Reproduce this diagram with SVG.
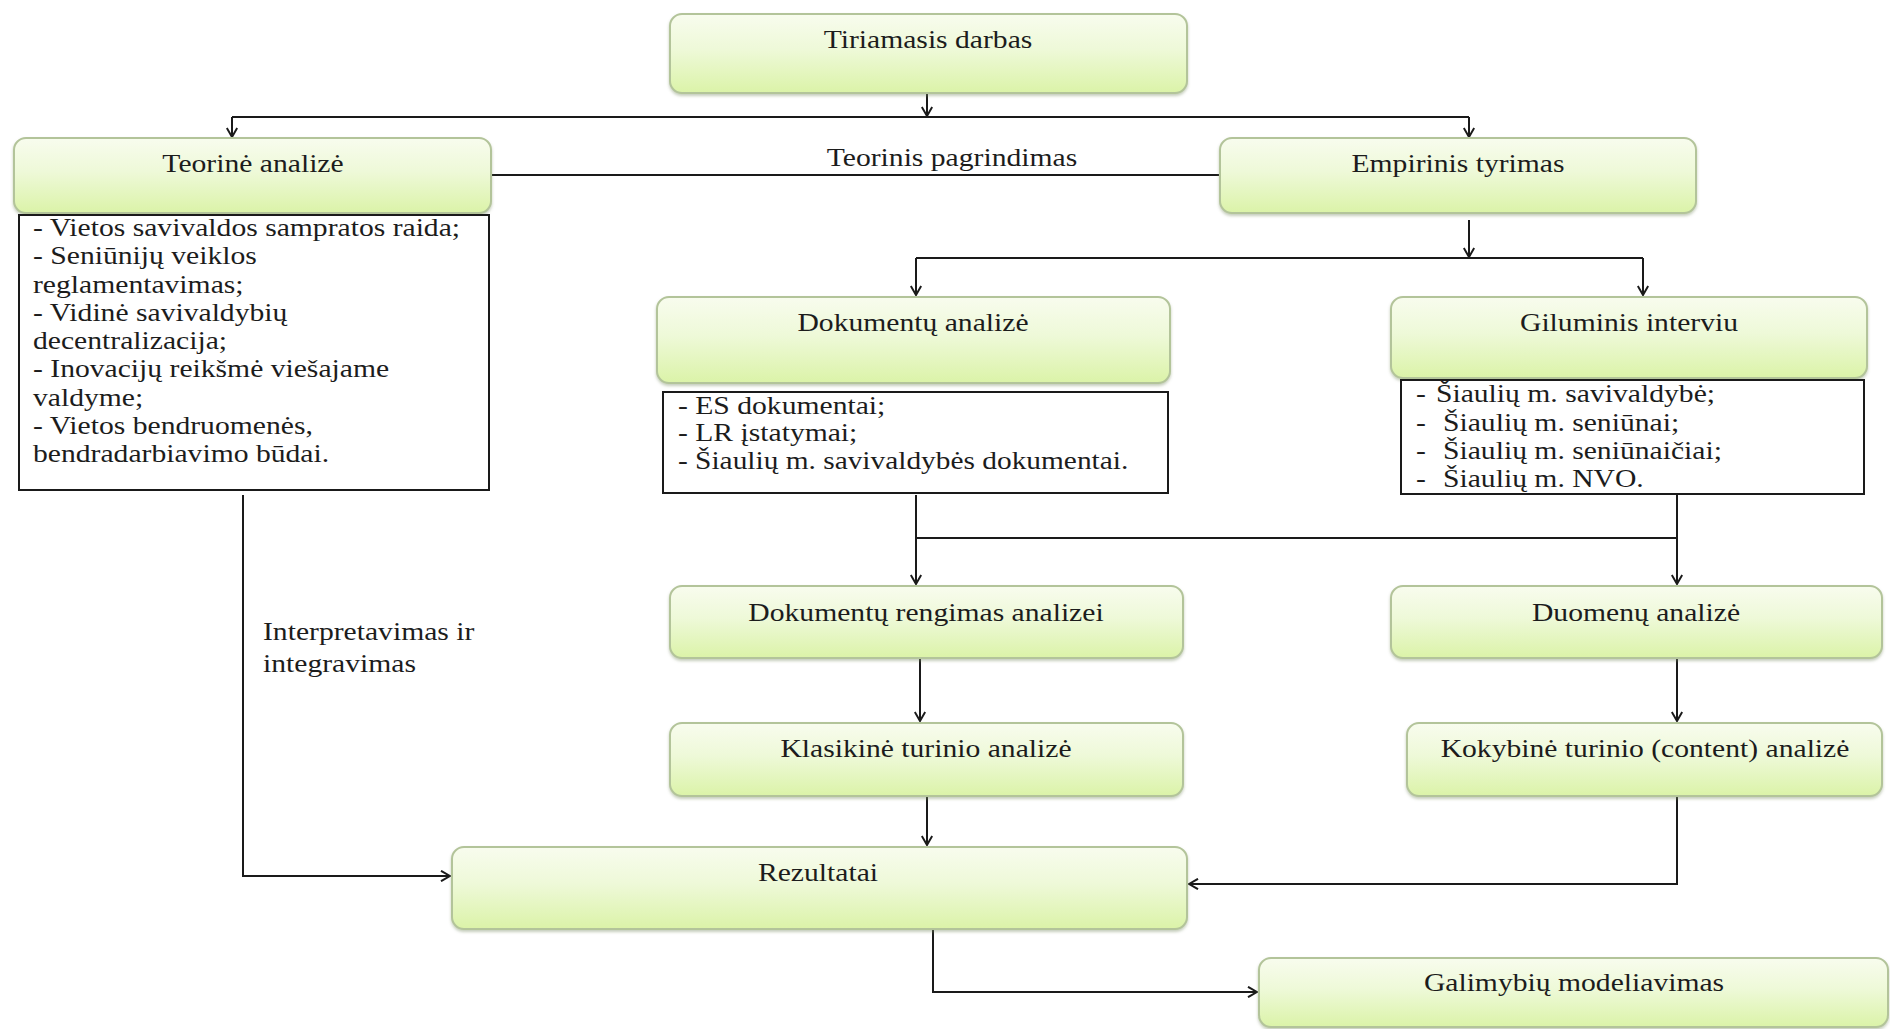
<svg xmlns="http://www.w3.org/2000/svg" width="1890" height="1029" viewBox="0 0 1890 1029">
  <style>
    .box { fill: url(#boxFill); stroke: #b3c49a; stroke-width: 2; filter: url(#soft); }
    .list { fill: #ffffff; stroke: #1a1a1a; stroke-width: 2; }
    .t { font-family: "Liberation Serif", "Times New Roman", serif; font-size: 26px; fill: #1c1c1c; }
    .wire { fill: none; stroke: #1a1a1a; stroke-width: 2; }
    .arrow { marker-end: url(#head); }
  </style>
  <defs>
    <linearGradient id="boxFill" x1="0" y1="0" x2="0" y2="1">
      <stop offset="0" stop-color="#f8fcee"/>
      <stop offset="0.45" stop-color="#eef9d8"/>
      <stop offset="1" stop-color="#dbf3a8"/>
    </linearGradient>
    <filter id="soft" x="-5%" y="-10%" width="110%" height="130%">
      <feDropShadow dx="0" dy="2" stdDeviation="1.5" flood-color="#7f8f68" flood-opacity="0.45"/>
    </filter>
    <marker id="head" viewBox="0 0 12 12" refX="11" refY="6" markerWidth="12" markerHeight="12" markerUnits="userSpaceOnUse" orient="auto">
      <path d="M2,0.8 L11,6 L2,11.2" fill="none" stroke="#1a1a1a" stroke-width="2"/>
    </marker>
  </defs>

  <rect width="1890" height="1029" fill="#ffffff"/>

  <!-- connectors -->
  <g id="connectors">
    <path class="wire arrow" d="M927,93 V116"/>
    <path class="wire" d="M232,117 H1469"/>
    <path class="wire arrow" d="M232,117 V137"/>
    <path class="wire arrow" d="M1469,117 V137"/>
    <path class="wire" d="M491,175 H1220"/>
    <path class="wire arrow" d="M1469,220 V257"/>
    <path class="wire" d="M916,258 H1643"/>
    <path class="wire arrow" d="M916,258 V295"/>
    <path class="wire arrow" d="M1643,258 V295"/>
    <path class="wire arrow" d="M916,495 V584"/>
    <path class="wire arrow" d="M1677,495 V584"/>
    <path class="wire" d="M916,538 H1677"/>
    <path class="wire arrow" d="M920,658 V721"/>
    <path class="wire arrow" d="M1677,658 V721"/>
    <path class="wire arrow" d="M927,796 V845"/>
    <path class="wire arrow" d="M1677,796 V884 H1189"/>
    <path class="wire arrow" d="M243,495 V876 H450"/>
    <path class="wire arrow" d="M933,929 V992 H1257"/>
    <text class="t" text-anchor="middle" transform="matrix(1.14 0 0 1 952 166)">Teorinis pagrindimas</text>
    <text class="t" transform="matrix(1.14 0 0 1 263 640)"><tspan x="0">Interpretavimas ir</tspan><tspan x="0" dy="32">integravimas</tspan></text>
  </g>

  <g id="tiriamasis-darbas">
    <rect class="box" x="670" y="14" width="517" height="79" rx="12"/>
    <text class="t" text-anchor="middle" transform="matrix(1.14 0 0 1 928 48)">Tiriamasis darbas</text>
  </g>

  <g id="teorine-analize">
    <rect class="box" x="14" y="138" width="477" height="75" rx="12"/>
    <text class="t" text-anchor="middle" transform="matrix(1.14 0 0 1 253 172)">Teorinė analizė</text>
  </g>

  <g id="teorine-temos">
    <rect class="list" x="19" y="215" width="470" height="275"/>
    <text class="t" transform="matrix(1.14 0 0 1 33 236)">
      <tspan x="0">- Vietos savivaldos sampratos raida;</tspan>
      <tspan x="0" dy="28.3">- Seniūnijų veiklos</tspan>
      <tspan x="0" dy="28.3">reglamentavimas;</tspan>
      <tspan x="0" dy="28.3">- Vidinė savivaldybių</tspan>
      <tspan x="0" dy="28.3">decentralizacija;</tspan>
      <tspan x="0" dy="28.3">- Inovacijų reikšmė viešajame</tspan>
      <tspan x="0" dy="28.3">valdyme;</tspan>
      <tspan x="0" dy="28.3">- Vietos bendruomenės,</tspan>
      <tspan x="0" dy="28.3">bendradarbiavimo būdai.</tspan>
    </text>
  </g>

  <g id="empirinis-tyrimas">
    <rect class="box" x="1220" y="138" width="476" height="75" rx="12"/>
    <text class="t" text-anchor="middle" transform="matrix(1.14 0 0 1 1458 172)">Empirinis tyrimas</text>
  </g>

  <g id="dokumentu-analize">
    <rect class="box" x="657" y="297" width="513" height="86" rx="12"/>
    <text class="t" text-anchor="middle" transform="matrix(1.14 0 0 1 913 331)">Dokumentų analizė</text>
  </g>

  <g id="dokumentu-saltiniai">
    <rect class="list" x="663" y="392" width="505" height="101"/>
    <text class="t" transform="matrix(1.14 0 0 1 678 414)">
      <tspan x="0">- ES dokumentai;</tspan>
      <tspan x="0" dy="27.5">- LR įstatymai;</tspan>
      <tspan x="0" dy="27.5" textLength="395" lengthAdjust="spacingAndGlyphs">- Šiaulių m. savivaldybės dokumentai.</tspan>
    </text>
  </g>

  <g id="giluminis-interviu">
    <rect class="box" x="1391" y="297" width="476" height="81" rx="12"/>
    <text class="t" text-anchor="middle" transform="matrix(1.14 0 0 1 1629 331)">Giluminis interviu</text>
  </g>

  <g id="interviu-dalyviai">
    <rect class="list" x="1401" y="380" width="463" height="114"/>
    <text class="t" transform="matrix(1.14 0 0 1 1416 402)">
      <tspan x="0">-</tspan><tspan x="17.5">Šiaulių m.</tspan><tspan x="131">savivaldybė;</tspan>
      <tspan x="0" y="29">-</tspan><tspan x="23.7" y="29">Šiaulių m. seniūnai;</tspan>
      <tspan x="0" y="57">-</tspan><tspan x="23.7" y="57">Šiaulių m. seniūnaičiai;</tspan>
      <tspan x="0" y="85">-</tspan><tspan x="23.7" y="85">Šiaulių m. NVO.</tspan>
    </text>
  </g>

  <g id="dokumentu-rengimas">
    <rect class="box" x="670" y="586" width="513" height="72" rx="12"/>
    <text class="t" text-anchor="middle" transform="matrix(1.14 0 0 1 926 621)">Dokumentų rengimas analizei</text>
  </g>

  <g id="duomenu-analize">
    <rect class="box" x="1391" y="586" width="491" height="72" rx="12"/>
    <text class="t" text-anchor="middle" transform="matrix(1.14 0 0 1 1636 621)">Duomenų analizė</text>
  </g>

  <g id="klasikine-analize">
    <rect class="box" x="670" y="723" width="513" height="73" rx="12"/>
    <text class="t" text-anchor="middle" transform="matrix(1.14 0 0 1 926 757)">Klasikinė turinio analizė</text>
  </g>

  <g id="kokybine-analize">
    <rect class="box" x="1407" y="723" width="475" height="73" rx="12"/>
    <text class="t" text-anchor="middle" transform="matrix(1.14 0 0 1 1645 757)">Kokybinė turinio (content) analizė</text>
  </g>

  <g id="rezultatai">
    <rect class="box" x="452" y="847" width="735" height="82" rx="12"/>
    <text class="t" text-anchor="middle" transform="matrix(1.14 0 0 1 818 881)">Rezultatai</text>
  </g>

  <g id="galimybiu-modeliavimas">
    <rect class="box" x="1259" y="958" width="629" height="69" rx="12"/>
    <text class="t" text-anchor="middle" transform="matrix(1.14 0 0 1 1574 991)">Galimybių modeliavimas</text>
  </g>
</svg>
